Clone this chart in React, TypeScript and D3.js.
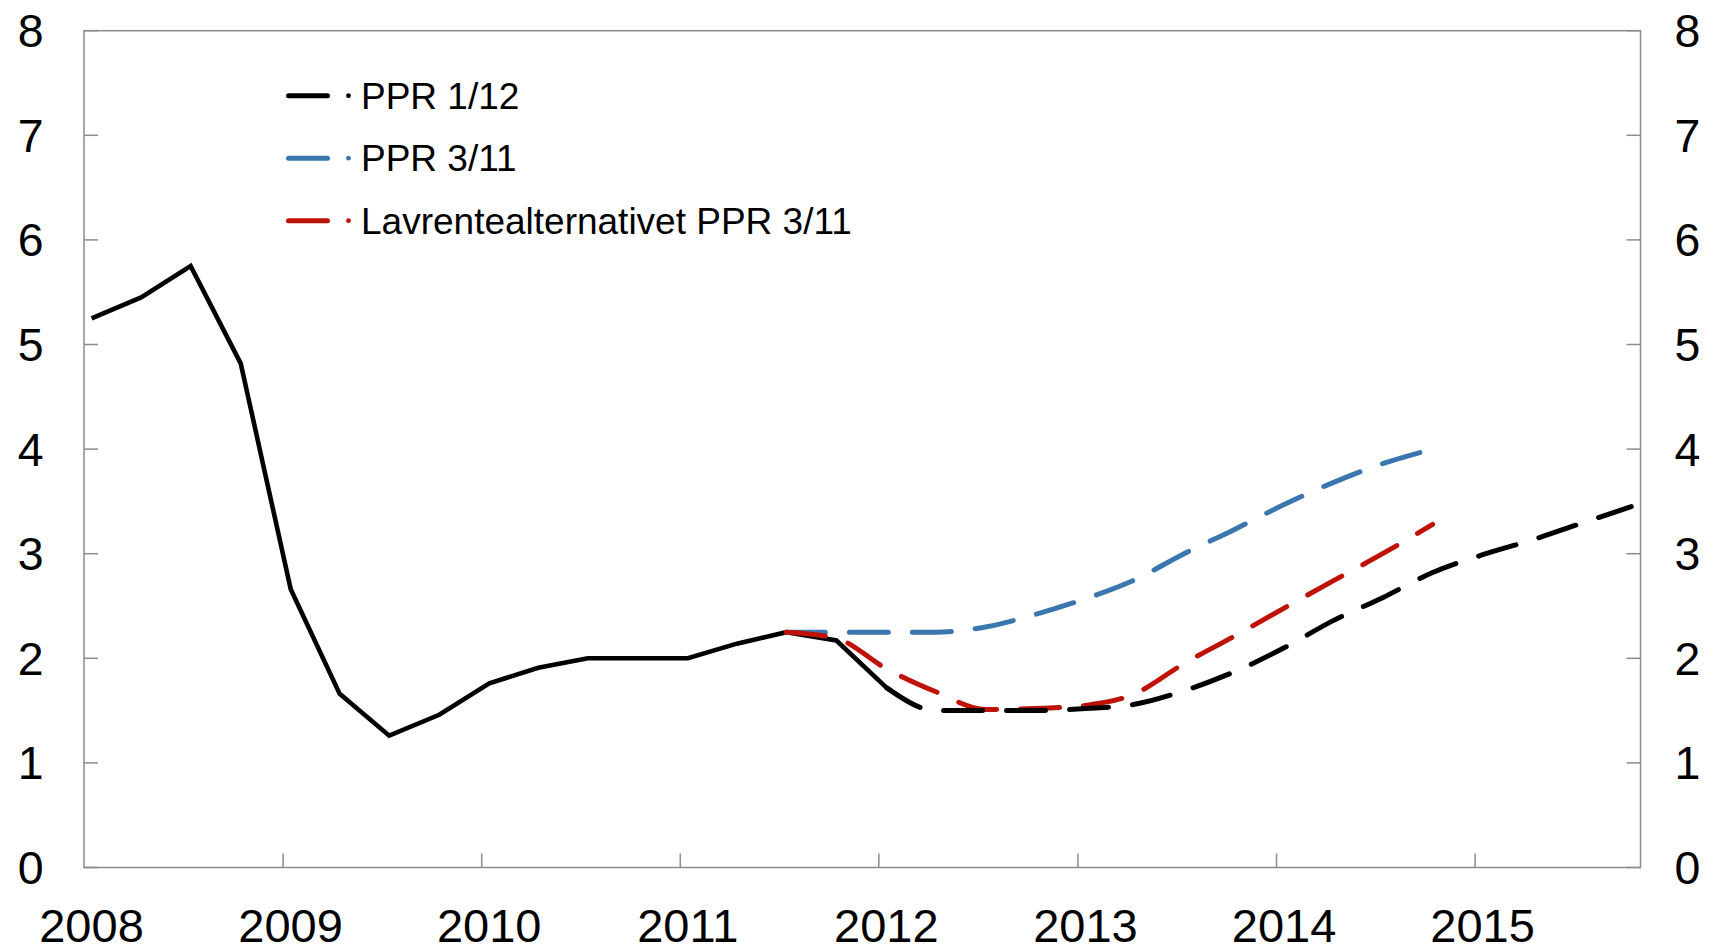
import React from 'react';
import * as d3 from 'd3';

// ---- Data (quarterly averages, per cent) ----
const quarters = [
  '2008Q1', '2008Q2', '2008Q3', '2008Q4', '2009Q1', '2009Q2', '2009Q3', '2009Q4',
  '2010Q1', '2010Q2', '2010Q3', '2010Q4', '2011Q1', '2011Q2', '2011Q3', '2011Q4',
  '2012Q1', '2012Q2', '2012Q3', '2012Q4', '2013Q1', '2013Q2', '2013Q3', '2013Q4',
  '2014Q1', '2014Q2', '2014Q3', '2014Q4', '2015Q1', '2015Q2', '2015Q3', '2015Q4',
];

const historyStart = '2008Q1';
const historyValues = [5.25, 5.45, 5.75, 4.82, 2.66, 1.66, 1.26, 1.46, 1.76, 1.91, 2.0, 2.0, 2.0, 2.14, 2.25, 2.17, 1.72];

const ppr112Start = '2012Q1';
const ppr112Values = [1.72, 1.5, 1.5, 1.5, 1.52, 1.56, 1.69, 1.87, 2.1, 2.36, 2.58, 2.82, 2.99, 3.13, 3.29, 3.45];

const ppr311Start = '2011Q3';
const ppr311Values = [2.25, 2.25, 2.25, 2.25, 2.3, 2.42, 2.57, 2.75, 3.0, 3.23, 3.47, 3.68, 3.86, 4.0];

const lowAltStart = '2011Q3';
const lowAltValues = [2.25, 2.19, 1.9, 1.68, 1.51, 1.52, 1.55, 1.66, 1.95, 2.21, 2.48, 2.74, 3.0, 3.28];

const yTicks = [0, 1, 2, 3, 4, 5, 6, 7, 8];
const xYears = [2008, 2009, 2010, 2011, 2012, 2013, 2014, 2015];

const legendLabels = ['PPR 1/12', 'PPR 3/11', 'Lavrentealternativet PPR 3/11'];
const legendColors = ['#000000', '#3a76af', '#bf1206'];

// ---- Layout ----
const W = 1713;
const H = 945;
const plot = { left: 84, right: 1640.5, top: 30.7, bottom: 867.5 };
const FONT = '"Liberation Sans", Arial, Helvetica, sans-serif';
const AXIS = '#8c8c8c';

function qDate(q: string): Date {
  const yr = +q.slice(0, 4);
  const n = +q.slice(5);
  return new Date(yr, (n - 1) * 3, 15);
}

function series(start: string, values: number[]) {
  const s = quarters.indexOf(start);
  return values.map((v, i) => ({ date: qDate(quarters[s + i]), value: v }));
}

export default function App() {
  const x = d3
    .scaleTime()
    .domain([new Date(2008, 0, 1), new Date(2015, 10, 1)])
    .range([plot.left, plot.right]);
  const y = d3.scaleLinear().domain([0, 8]).range([plot.bottom, plot.top]);

  const linear = d3
    .line<{ date: Date; value: number }>()
    .x((d) => x(d.date))
    .y((d) => y(d.value));
  const smooth = d3
    .line<{ date: Date; value: number }>()
    .x((d) => x(d.date))
    .y((d) => y(d.value))
    .curve(d3.curveMonotoneX);

  const hist = series(historyStart, historyValues);
  const p112 = series(ppr112Start, ppr112Values);
  const p311 = series(ppr311Start, ppr311Values);
  const low = series(lowAltStart, lowAltValues);

  const dash = '39,24';
  const legendY = [95.7, 158.2, 220.7];

  return (
    <svg
      width={W}
      height={H}
      viewBox={`0 0 ${W} ${H}`}
      style={{ position: 'absolute', left: 0, top: 0, display: 'block', background: '#fff' }}
    >
      {/* frame */}
      <rect
        x={plot.left}
        y={plot.top}
        width={plot.right - plot.left}
        height={plot.bottom - plot.top}
        fill="none"
        stroke={AXIS}
        strokeWidth={1.5}
      />
      {/* y ticks */}
      {yTicks.map((t) => (
        <g key={`yt${t}`}>
          <line x1={plot.left} x2={plot.left + 14} y1={y(t)} y2={y(t)} stroke={AXIS} strokeWidth={1.5} />
          <line x1={plot.right - 14} x2={plot.right} y1={y(t)} y2={y(t)} stroke={AXIS} strokeWidth={1.5} />
          <text x={43.5} y={y(t) + 16.5} fontSize={46.5} fontFamily={FONT} textAnchor="end" fill="#000">
            {t}
          </text>
          <text x={1674.5} y={y(t) + 16.5} fontSize={46.5} fontFamily={FONT} textAnchor="start" fill="#000">
            {t}
          </text>
        </g>
      ))}
      {/* x ticks */}
      {xYears.map((yr) => {
        const px = x(new Date(yr, 0, 1));
        return (
          <g key={`xt${yr}`}>
            {yr > 2008 && (
              <line x1={px} x2={px} y1={plot.bottom} y2={plot.bottom - 14} stroke={AXIS} strokeWidth={1.5} />
            )}
            <text x={px + 7.5} y={942} fontSize={47} fontFamily={FONT} textAnchor="middle" fill="#000">
              {yr}
            </text>
          </g>
        );
      })}

      {/* series */}
      <path d={linear(hist) || ''} fill="none" stroke="#000" strokeWidth={4.6} strokeLinejoin="miter" />
      <path
        d={smooth(p311) || ''}
        fill="none"
        stroke={legendColors[1]}
        strokeWidth={5}
        strokeDasharray={dash}
        strokeLinecap="round"
      />
      <path
        d={smooth(low) || ''}
        fill="none"
        stroke={legendColors[2]}
        strokeWidth={5}
        strokeDasharray={dash}
        strokeLinecap="round"
      />
      <path
        d={smooth(p112) || ''}
        fill="none"
        stroke="#000"
        strokeWidth={5}
        strokeDasharray={dash}
        strokeLinecap="round"
      />

      {/* legend */}
      {legendLabels.map((lab, i) => (
        <g key={`lg${i}`}>
          <line
            x1={288.5}
            x2={327.5}
            y1={legendY[i]}
            y2={legendY[i]}
            stroke={legendColors[i]}
            strokeWidth={5}
            strokeLinecap="round"
          />
          <circle cx={348.5} cy={legendY[i]} r={2.4} fill={legendColors[i]} />
          <text x={361} y={legendY[i] + 13.2} fontSize={37} fontFamily={FONT} fill="#000">
            {lab}
          </text>
        </g>
      ))}
    </svg>
  );
}
